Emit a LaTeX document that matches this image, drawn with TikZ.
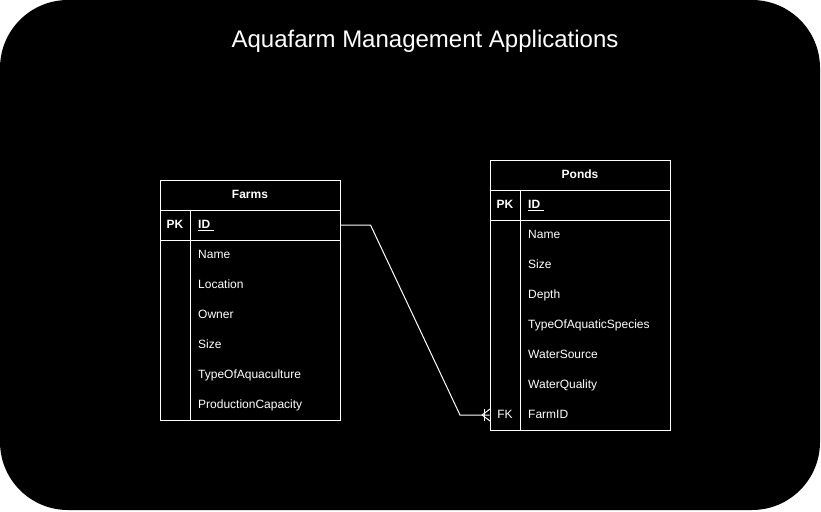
\documentclass[tikz,border=0pt]{standalone}
\usepackage{fontspec}
\setmainfont{Liberation Sans}

\tikzset{
  tbl/.style={draw=white, line width=1pt, minimum width=180pt, inner sep=0pt},
  fld/.style={text=white, font=\fontsize{12}{14}\selectfont, anchor=west, inner sep=0pt,
    text height=9.6pt, text depth=2.5pt},
  key/.style={text=white, font=\bfseries\fontsize{12}{14}\selectfont, inner sep=0pt,
    text height=9.6pt, text depth=2.5pt},
  link/.style={draw=white, line width=1pt},
}

\begin{document}
\begin{tikzpicture}[x=1pt,y=-1pt]
\fill[white] (0,0) rectangle (821,511);
\useasboundingbox (0,0) rectangle (821,511);
\fill[black, rounded corners=68pt] (0,0) rectangle (820,510);

\node[text=white, font=\fontsize{24}{28}\selectfont, text height=17.2pt, text depth=5.2pt] (title) at (425,42) {Aquafarm Management Applications};

% Farms
\node[tbl, minimum height=240pt] (farms) at (250,300) {};
\node[key] (farmsHead) at (250,195) {Farms};
\draw[link] (160,210) -- (340,210);
\draw[link] (160,240) -- (340,240);
\draw[link] (190,210) -- (190,420);
\node[key] (farmsPK) at (175,225) {PK};
\node[fld, font=\bfseries\fontsize{12}{14}\selectfont] (farmsID) at (198,225) {\underline{ID\ }};
\node[fld] (farmsName) at (198,255) {Name};
\node[fld] (farmsLoc) at (198,285) {Location};
\node[fld] (farmsOwner) at (198,315) {Owner};
\node[fld] (farmsSize) at (198,345) {Size};
\node[fld] (farmsType) at (198,375) {TypeOfAquaculture};
\node[fld] (farmsCap) at (198,405) {ProductionCapacity};

% Ponds
\node[tbl, minimum height=270pt] (ponds) at (580,295) {};
\node[key] (pondsHead) at (580,175) {Ponds};
\draw[link] (490,190) -- (670,190);
\draw[link] (490,220) -- (670,220);
\draw[link] (520,190) -- (520,430);
\node[key] (pondsPK) at (505,205) {PK};
\node[fld, font=\bfseries\fontsize{12}{14}\selectfont] (pondsID) at (528,205) {\underline{ID\ }};
\node[fld] (pondsName) at (528,235) {Name};
\node[fld] (pondsSize) at (528,265) {Size};
\node[fld] (pondsDepth) at (528,295) {Depth};
\node[fld] (pondsSpecies) at (528,325) {TypeOfAquaticSpecies};
\node[fld] (pondsSource) at (528,355) {WaterSource};
\node[fld] (pondsQuality) at (528,385) {WaterQuality};
\node[fld, anchor=center] (pondsFKkey) at (505,415) {FK};
\node[fld] (pondsFarm) at (528,415) {FarmID};

% farm has many ponds
\coordinate (end) at (ponds.west |- pondsFarm);
\draw[link] (farms.east |- farmsID) -- ++(30,0) -- (460,415) -- (end);
\draw[link] (484,409) -- (484,421); % one
\draw[link] (482,415) -- (490,409); % many
\draw[link] (482,415) -- (490,421);
\end{tikzpicture}
\end{document}
